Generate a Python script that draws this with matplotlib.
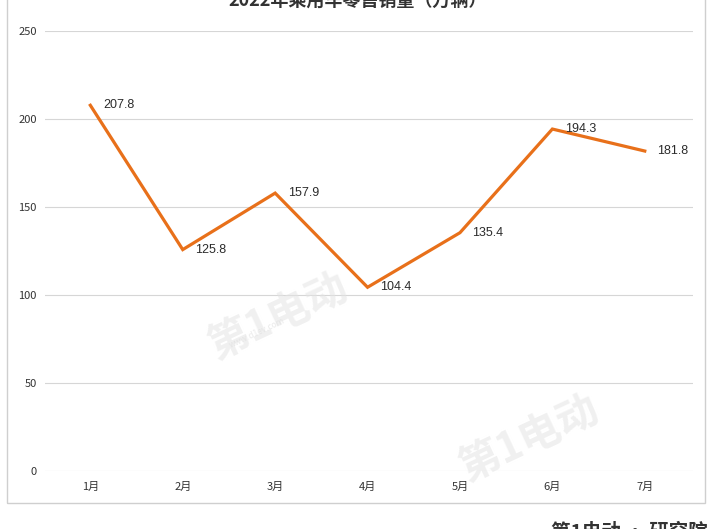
import matplotlib
matplotlib.use("Agg")
import matplotlib.pyplot as plt
from matplotlib.patches import Rectangle

plt.rcParams["font.family"] = ["Noto Sans CJK SC", "DejaVu Sans"]

months = ["1月", "2月", "3月", "4月", "5月", "6月", "7月"]
sales = [207.8, 125.8, 157.9, 104.4, 135.4, 194.3, 181.8]
y_ticks = [0, 50, 100, 150, 200, 250]
title = "2022年乘用车零售销量（万辆）"

fig = plt.figure(figsize=(7.15, 5.29), dpi=100)
ax = fig.add_axes([0.063, 0.1096, 0.906, 0.8318])

# outer chart frame (top is cut off in the source image)
fig.patches.append(Rectangle((0.0098, 0.049), 0.976, 1.0, transform=fig.transFigure,
                             fill=False, edgecolor="#cfcfcf", linewidth=1.0))

# faint watermarks
wm = dict(fontsize=30, color="#e4e4e4", alpha=0.55, rotation=25,
          ha="center", va="center", fontweight="bold")
fig.text(0.39, 0.40, "第1电动", **wm)
fig.text(0.74, 0.17, "第1电动", **wm)
fig.text(0.36, 0.37, "www.d1ev.com", fontsize=6, color="#dddddd", alpha=0.6,
         rotation=25, ha="center", va="center")

x = list(range(len(months)))
ax.plot(x, sales, color="#e8701a", linewidth=2.3, solid_joinstyle="miter", zorder=3)
for xi, v in zip(x, sales):
    ax.annotate(f"{v}", (xi, v), xytext=(9, 0), textcoords="offset points",
                ha="left", va="center", fontsize=9, color="#2b2b2b",
                family=["Liberation Sans", "DejaVu Sans"], zorder=4)

ax.set_xlim(-0.49, 6.52)
ax.set_ylim(0, 250)
ax.set_xticks(x)
ax.set_xticklabels(months)
ax.set_yticks(y_ticks)
ax.tick_params(axis="both", length=0, labelsize=8, colors="#333333")
ax.tick_params(axis="x", pad=8)
ax.tick_params(axis="y", pad=6)
ax.grid(axis="y", color="#d6d6d6", linewidth=0.8)
ax.set_axisbelow(True)
for s in ax.spines.values():
    s.set_visible(False)

fig.text(0.5, 1.0, title, fontsize=13, color="#333333", ha="center", va="center",
         fontweight="bold")

# bottom-right logo, partially cropped like the source
fig.text(0.99, -0.005, "第1电动 · 研究院", fontsize=14, color="#333333",
         ha="right", va="center", fontweight="bold")

fig.savefig("out.png", dpi=100)
